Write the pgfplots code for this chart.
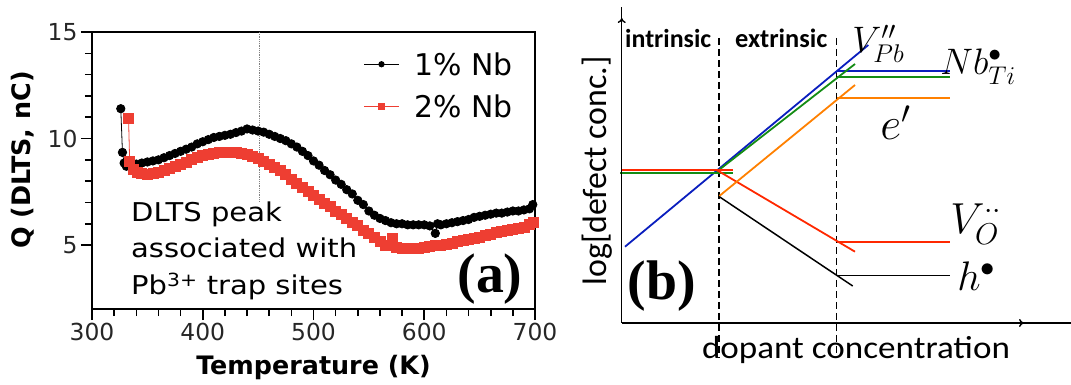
\documentclass[border=0pt]{standalone}
\usepackage{fontspec}
\usepackage{pgfplots}
\pgfplotsset{compat=1.18}
\usetikzlibrary{arrows.meta}
\newfontfamily\dv{DejaVu Sans}
\newfontfamily\dvw{DejaVu Sans}[FakeStretch=1.12]
\newfontfamily\carl{Carlito}
\newfontfamily\carlw{Carlito}[FakeStretch=1.1]
\newfontfamily\tms{Liberation Serif}
\definecolor{dred}{RGB}{238,62,50}
\definecolor{bblue}{RGB}{10,30,190}
\definecolor{ggreen}{RGB}{20,140,20}
\definecolor{oorange}{RGB}{255,128,0}
\definecolor{rred}{RGB}{255,40,0}
\begin{document}
\begin{tikzpicture}
\useasboundingbox (0bp,0bp) rectangle (1071bp,385bp);
% ---------- panel (a)
\begin{axis}[
 at={(92bp,76bp)}, anchor=south west,
 scale only axis, width=443bp, height=277bp,
 xmin=300, xmax=700, ymin=2, ymax=15,
 xtick={300,400,...,700}, ytick={5,10,15},
 xticklabels={300,400,500,600,700}, yticklabels={5,10,15},
 minor x tick num=4, minor y tick num=4,
 tick align=outside, xtick pos=bottom, ytick pos=left,
 major tick length=11bp, minor tick length=7bp,
 every tick/.style={black, line width=1.6bp},
 axis line style={line width=1.8bp},
 tick label style={font=\fontsize{23.5}{24}\dv, text=black!85},
 xlabel={Temperature (K)}, ylabel={Q (DLTS, nC)},
 label style={font=\fontsize{25.5}{26}\dv\bfseries},
 xlabel style={at={(axis description cs:0.5,-0.238)}, anchor=base},
 ylabel style={at={(axis description cs:-0.156,0.538)}, anchor=center},
 legend style={draw=none, fill=none, inner sep=0pt, at={(axis description cs:0.950,0.924)}, anchor=north east,
   font=\fontsize{30}{30}\dv, row sep=20bp,
   nodes={inner sep=0pt, text height=22bp, text depth=0bp},
   /tikz/every odd column/.append style={column sep=15bp}},
 legend cell align=left,
 legend image code/.code={\draw[mark repeat=2,mark phase=2,#1,mark size=2.7bp] plot coordinates {(0bp,0bp)(17.5bp,0bp)(35bp,0bp)};},
]
\addplot[black, line width=0.8bp, mark=*, mark size=4.2bp] coordinates {
(326,11.4)(327.5,9.35)(329,8.85)(331,8.7)(335,8.75)(340,8.8)(345,8.85)(350,8.9)(355,8.95)(360,9.0)
(365,9.1)(370,9.2)(375,9.3)(380,9.4)(385,9.5)(390,9.6)(395,9.75)(400,9.85)(405,9.95)(410,10.05)
(415,10.1)(420,10.15)(425,10.2)(430,10.28)(435,10.35)(440,10.45)(445,10.4)(450,10.35)(455,10.3)
(460,10.2)(465,10.1)(470,10.0)(475,9.9)(480,9.75)(485,9.6)(490,9.4)(495,9.2)(500,8.95)(505,8.75)
(510,8.5)(515,8.3)(520,8.05)(525,7.85)(530,7.6)(535,7.4)(540,7.1)(545,6.9)(550,6.6)(555,6.4)
(560,6.25)(565,6.15)(570,6.05)(575,6.0)(580,6.0)(585,5.95)(590,5.95)(595,5.95)(600,5.95)(605,5.9)
(610,5.55)(612,6.0)(615,5.95)(620,6.0)(625,6.05)(630,6.1)(635,6.15)(640,6.2)(645,6.3)(650,6.35)
(655,6.4)(660,6.45)(665,6.5)(670,6.5)(675,6.55)(680,6.6)(685,6.6)(690,6.65)(695,6.7)(698,6.9)};
\addlegendentry{1\% Nb}
\addplot[dred, line width=0.8bp, mark=square*, mark size=5bp, mark options={fill=dred,draw=dred}] coordinates {
(333,10.95)(334,8.95)(337,8.55)(341,8.4)(345,8.35)(350,8.3)(355,8.35)(360,8.4)(365,8.5)(370,8.6)
(375,8.7)(380,8.8)(385,8.9)(390,9.0)(395,9.1)(400,9.2)(405,9.25)(410,9.3)(415,9.35)(420,9.35)
(425,9.35)(430,9.35)(435,9.3)(440,9.25)(445,9.15)(450,9.05)(455,8.95)(460,8.8)(465,8.65)(470,8.5)
(475,8.3)(480,8.1)(485,7.9)(490,7.7)(495,7.5)(500,7.35)(505,7.15)(510,6.95)(515,6.8)(520,6.6)
(525,6.45)(530,6.25)(535,6.05)(540,5.9)(545,5.7)(550,5.55)(555,5.35)(560,5.15)(565,5.0)(571,5.3)
(575,4.9)(580,4.85)(585,4.85)(590,4.85)(595,4.85)(600,4.9)(605,4.95)(610,5.0)(615,5.0)(620,5.05)
(625,5.1)(630,5.15)(635,5.2)(640,5.25)(645,5.3)(650,5.35)(655,5.45)(660,5.5)(665,5.6)(670,5.65)
(675,5.7)(680,5.75)(685,5.8)(690,5.85)(695,5.95)(699,6.05)};
\addlegendentry{2\% Nb}
\addplot[gray, densely dotted, line width=0.8bp, forget plot] coordinates {(451,15)(451,7.06)};
\end{axis}
\node[anchor=base west, inner sep=0, font=\fontsize{26}{26}\dvw] at (131bp,163bp) {DLTS peak};
\node[anchor=base west, inner sep=0, font=\fontsize{26}{26}\dvw] at (131bp,127bp) {associated with};
\node[anchor=base west, inner sep=0, font=\fontsize{26}{26}\dvw] at (131bp,90bp) {Pb\textsuperscript{3+} trap sites};
\node[anchor=base, inner sep=0, font=\fontsize{56}{56}\tms\bfseries] at (490bp,92bp) {(a)};
% ---------- panel (b)
\begin{axis}[at={(0bp,0bp)}, anchor=south west, scale only axis, width=1071bp, height=385bp,
 xmin=0, xmax=1071, ymin=0, ymax=385, axis lines=none, clip=false]
\draw[line width=1.5bp, dash pattern=on 7bp off 4bp] (719,347) -- (719,27);
\draw[line width=1.5bp, dash pattern=on 7bp off 4bp] (836.7,347) -- (836.7,27);
\addplot[bblue, line width=1.8bp] coordinates {(625,138.3) (868.3,340)};
\addplot[bblue, line width=1.8bp] coordinates {(836.7,314.3) (950,314.3)};
\addplot[ggreen, line width=1.8bp] coordinates {(620,211.7) (733.3,211.7)};
\addplot[ggreen, line width=1.8bp] coordinates {(716.7,213.3) (855,321)};
\addplot[ggreen, line width=1.8bp] coordinates {(836.7,307.7) (950,307.7)};
\addplot[rred, line width=1.8bp] coordinates {(621.7,215) (733.3,215)};
\addplot[rred, line width=1.8bp] coordinates {(716.7,215) (855,133.3)};
\addplot[rred, line width=1.8bp] coordinates {(836.7,143.3) (950,143.3)};
\addplot[oorange, line width=1.8bp] coordinates {(719.3,189) (855,300)};
\addplot[oorange, line width=1.8bp] coordinates {(836.7,286.7) (950,286.7)};
\addplot[black, line width=1.5bp] coordinates {(719.3,188.3) (852.7,99)};
\addplot[black, line width=1.5bp] coordinates {(836.7,109.3) (950,109.3)};
\draw[line width=1.4bp] (621.7,62) -- (621.7,378);
\draw[line width=1.4bp, -{To[length=5bp,width=8bp]}] (621.7,330) -- (621.7,367);
\draw[line width=1.4bp] (621.7,62) -- (1071,62);
\draw[line width=1.4bp, -{To[length=5bp,width=8bp]}] (990,62) -- (1024,62);
\end{axis}
\node[anchor=base west, inner sep=0, font=\fontsize{26}{26}\carl\bfseries] at (625bp,337bp) {intrinsic};
\node[anchor=base west, inner sep=0, font=\fontsize{26.5}{26}\carl\bfseries] at (735bp,337bp) {extrinsic};
\node[anchor=base, inner sep=0, font=\fontsize{32}{32}\carlw] at (856bp,27bp) {dopant concentration};
\node[anchor=center, inner sep=0, rotate=90, font=\fontsize{34}{34}\carl] at (597bp,214bp) {log[defect conc.]};
\node[anchor=base, inner sep=0, font=\fontsize{56}{56}\tms\bfseries] at (662bp,85bp) {(b)};
\node[anchor=base west, inner sep=0, scale=1.784, font=\fontsize{20.74}{24}\selectfont] at (852bp,332bp) {$V^{\prime\prime}_{Pb}$};
\node[anchor=base west, inner sep=0, scale=1.784, font=\fontsize{20.74}{24}\selectfont] at (940bp,310bp) {$Nb^{\bullet}_{Ti}$};
\node[anchor=base west, inner sep=0, scale=2.218, font=\fontsize{20.74}{24}\selectfont] at (880bp,245bp) {$e^{\prime}$};
\node[anchor=base west, inner sep=0, scale=2.1, font=\fontsize{20.74}{24}\selectfont] at (950bp,151bp) {$V^{\cdot\cdot}_{O}$};
\node[anchor=base west, inner sep=0, scale=2.0, font=\fontsize{20.74}{24}\selectfont] at (957bp,94bp) {$h^{\bullet}$};
\end{tikzpicture}
\end{document}
